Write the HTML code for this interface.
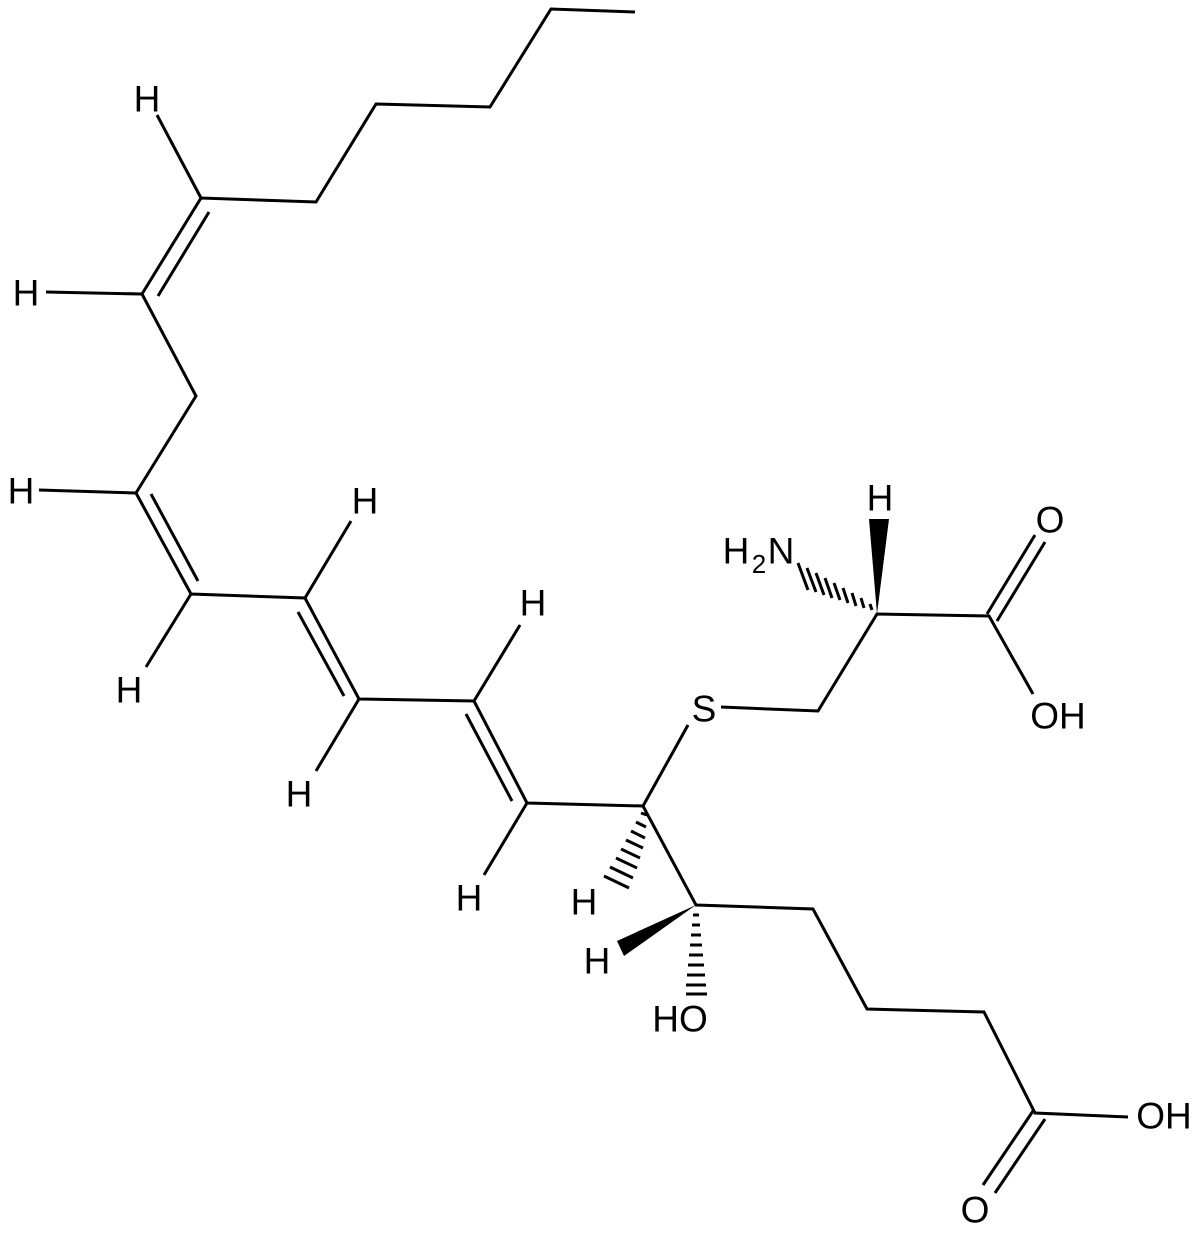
<!DOCTYPE html>
<html><head><style>html,body{margin:0;padding:0;background:#fff}svg{display:block}</style></head>
<body>
<svg width="1200" height="1234" viewBox="0 0 1200 1234" xmlns="http://www.w3.org/2000/svg">
<g stroke="#000" stroke-width="3" fill="none" stroke-linecap="butt" stroke-linejoin="miter">
<polyline points="635,12 551,9 490,107 376,104 316,202 201,198 142,294 196,396 136,493 191,594 305,598 359,699 474,701 527,803 643,806 696,905 813,909 867,1009 984,1012 1035,1113 1128,1117"/>
<line x1="209" y1="212" x2="158" y2="296"/>
<line x1="151" y1="494" x2="198" y2="581"/>
<line x1="298" y1="612" x2="344" y2="696"/>
<line x1="466" y1="714" x2="512" y2="801"/>
<line x1="201" y1="198" x2="157" y2="115"/>
<line x1="142" y1="294" x2="46" y2="292"/>
<line x1="136" y1="493" x2="39" y2="490"/>
<line x1="191" y1="594" x2="146" y2="667"/>
<line x1="305" y1="598" x2="351" y2="521"/>
<line x1="359" y1="699" x2="316" y2="771"/>
<line x1="474" y1="701" x2="520" y2="625"/>
<line x1="527" y1="803" x2="484" y2="875"/>
<line x1="643" y1="806" x2="688" y2="725"/>
<polyline points="721,707 818,711 877,614 989,616 1033,694"/>
<line x1="987" y1="614" x2="1035" y2="535"/>
<line x1="997" y1="621" x2="1045" y2="542"/>
<line x1="1033" y1="1111" x2="983" y2="1185"/>
<line x1="1045" y1="1119" x2="995" y2="1193"/>
</g>
<g fill="#000">
<polygon points="877,614 869,519 889,519"/>
<polygon points="696,905 617,941 624,956"/>
</g>
<g stroke="#000" stroke-width="3">
<line x1="870" y1="604" x2="872" y2="610"/>
<line x1="861" y1="598" x2="864" y2="608"/>
<line x1="852" y1="593" x2="856" y2="606"/>
<line x1="843" y1="588" x2="848" y2="603"/>
<line x1="834" y1="583" x2="840" y2="600"/>
<line x1="825" y1="578" x2="832" y2="598"/>
<line x1="816" y1="573" x2="824" y2="595"/>
<line x1="807" y1="568" x2="816" y2="592"/>
<line x1="798" y1="563" x2="808" y2="590"/>
<line x1="641" y1="813" x2="647" y2="815"/>
<line x1="636" y1="822" x2="646" y2="827"/>
<line x1="631" y1="831" x2="645" y2="838"/>
<line x1="626" y1="840" x2="643" y2="848"/>
<line x1="621" y1="849" x2="640" y2="858"/>
<line x1="616" y1="858" x2="637" y2="868"/>
<line x1="610" y1="867" x2="633" y2="878"/>
<line x1="604" y1="876" x2="629" y2="888"/>
<line x1="693" y1="915" x2="699" y2="915"/>
<line x1="692" y1="925" x2="700" y2="925"/>
<line x1="691" y1="935" x2="701" y2="935"/>
<line x1="690" y1="945" x2="702" y2="945"/>
<line x1="689" y1="955" x2="703" y2="955"/>
<line x1="688" y1="965" x2="704" y2="965"/>
<line x1="687" y1="975" x2="705" y2="975"/>
<line x1="686" y1="985" x2="706" y2="985"/>
<line x1="686" y1="994" x2="707" y2="994"/>
</g>
<g font-family="Liberation Sans, sans-serif" font-size="37" fill="#000" text-anchor="middle" dominant-baseline="central">
<text x="147" y="99">H</text>
<text x="26" y="293">H</text>
<text x="21" y="491">H</text>
<text x="365" y="501">H</text>
<text x="129" y="690">H</text>
<text x="299" y="794">H</text>
<text x="533" y="603">H</text>
<text x="469" y="898">H</text>
<text x="584" y="902">H</text>
<text x="597" y="961">H</text>
<text x="680" y="1019">HO</text>
<text x="704" y="709">S</text>
<text x="880" y="498">H</text>
<text x="1050" y="520">O</text>
<text x="1058" y="716">OH</text>
<text x="1164" y="1116">OH</text>
<text x="975" y="1210">O</text>
<text x="736" y="551">H</text>
<text x="759" y="564" font-size="26">2</text>
<text x="781" y="551">N</text>
</g>
</svg>
</body></html>
